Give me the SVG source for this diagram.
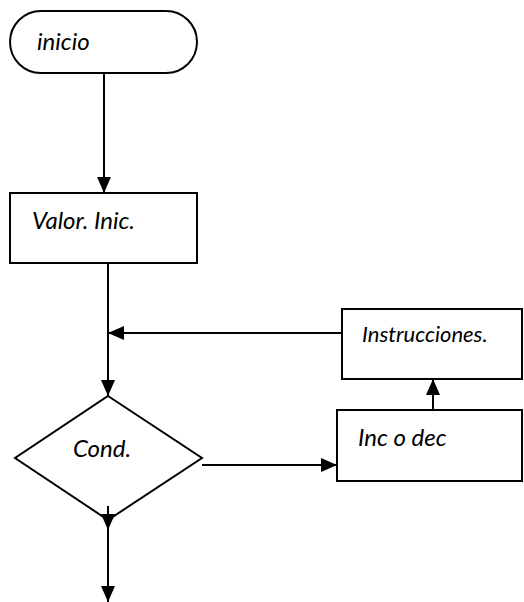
<svg xmlns="http://www.w3.org/2000/svg" width="524" height="602" viewBox="0 0 524 602">
  <style>
    .shape { fill: #fff; stroke: #000; stroke-width: 2; }
    .link { fill: none; stroke: #000; stroke-width: 2; }
    .label { font-family: Lato, "Open Sans", "Liberation Sans", sans-serif; font-style: italic; fill: #000; font-size: 24px; }
  </style>
  <defs>
    <marker id="arrow" markerUnits="userSpaceOnUse" markerWidth="16" markerHeight="14" refX="16" refY="7" orient="auto">
      <path d="M0,0 L16,7 L0,14 Z" fill="#000"/>
    </marker>
  </defs>

  <!-- connectors -->
  <g id="connectors">
    <line class="link" x1="104" y1="73" x2="104" y2="193" marker-end="url(#arrow)"/>
    <line class="link" x1="108" y1="263" x2="108" y2="396" marker-end="url(#arrow)"/>
    <line class="link" x1="342" y1="333" x2="108" y2="333" marker-end="url(#arrow)"/>
    <line class="link" x1="202" y1="465" x2="337" y2="465" marker-end="url(#arrow)"/>
    <line class="link" x1="433" y1="410" x2="433" y2="379" marker-end="url(#arrow)"/>
    <line class="link" x1="108" y1="530" x2="108" y2="602" marker-end="url(#arrow)"/>
  </g>

  <!-- start terminal -->
  <g id="inicio">
    <rect class="shape" x="10" y="11" width="187" height="62" rx="31" ry="31"/>
    <text class="label" x="37" y="50">inicio</text>
  </g>

  <!-- initial value -->
  <g id="valor-inic">
    <rect class="shape" x="10" y="193" width="187" height="70"/>
    <text class="label" x="32" y="229">Valor. Inic.</text>
  </g>

  <!-- condition -->
  <g id="cond">
    <polygon class="shape" points="108,396 202,458 108,520 15,458"/>
    <text class="label" x="73" y="457">Cond.</text>
  </g>

  <!-- loop body -->
  <g id="instrucciones">
    <rect class="shape" x="342" y="309" width="180" height="70"/>
    <text class="label" x="362" y="342" style="font-size:22px">Instrucciones.</text>
  </g>

  <!-- increment / decrement -->
  <g id="inc-dec">
    <rect class="shape" x="337" y="410" width="185" height="71"/>
    <text class="label" x="358" y="446">Inc o dec</text>
  </g>

  <!-- exit arrow drawn over the condition's lower vertex -->
  <g id="cond-exit">
    <line class="link" x1="108" y1="506" x2="108" y2="530" marker-end="url(#arrow)"/>
  </g>
</svg>
